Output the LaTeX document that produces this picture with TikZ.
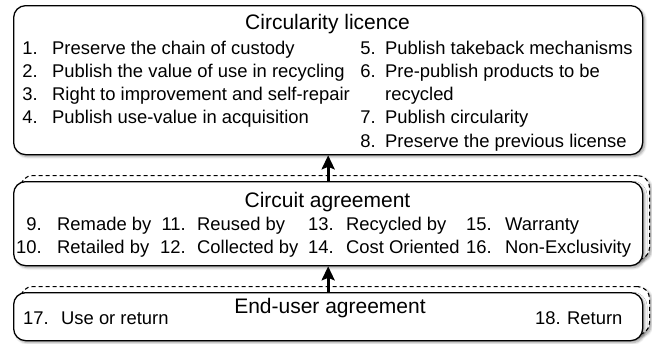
\documentclass[tikz,border=0pt]{standalone}
\usepackage{fontspec}
\setmainfont{Liberation Sans}
\usetikzlibrary{arrows.meta,shadows.blur}

\tikzset{
  softshadow/.style={blur shadow={shadow xshift=2pt, shadow yshift=-2pt,
      shadow blur radius=2.5pt, shadow blur steps=6, shadow opacity=40}},
  panel/.style={draw=black, line width=1.3pt, fill=white, rounded corners=12pt,
      anchor=north west, inner sep=0pt, softshadow},
  ghost/.style={draw=black, line width=1.1pt, dash pattern=on 4pt off 3pt,
      fill=white, rounded corners=12pt, anchor=north west, inner sep=0pt, softshadow},
  heading/.style={font=\fontsize{21}{25}\selectfont, anchor=base, inner sep=0pt},
  num/.style={font=\fontsize{18.4}{22}\selectfont, anchor=base east, inner sep=0pt},
  txt/.style={font=\fontsize{18.4}{22}\selectfont, anchor=base west, inner sep=0pt},
  link/.style={line width=3.2pt, -{Stealth[length=14pt, width=13pt, inset=2.5pt]}},
}

% numbered entry: name, number right edge, text left edge, baseline, number, text
\newcommand\listentry[6]{%
  \node[num] (#1n) at (#2,#4) {#5};
  \node[txt] (#1) at (#3,#4) {#6};}

\begin{document}
\begin{tikzpicture}[x=1pt, y=-1pt]
\useasboundingbox (0,0) rectangle (652,343);

% ---- circularity licence ----
\node[panel, minimum width=629pt, minimum height=149pt] (lic) at (13,5) {};
\node[heading] (lictitle) at (327.5,29.5) {Circularity licence};
\listentry{e1}{38}{52}{54}{1.}{Preserve the chain of custody}
\listentry{e2}{38}{52}{77}{2.}{Publish the value of use in recycling}
\listentry{e3}{38}{52}{100}{3.}{Right to improvement and self-repair}
\listentry{e4}{38}{52}{123}{4.}{Publish use-value in acquisition}
\listentry{e5}{376}{385}{54}{5.}{Publish takeback mechanisms}
\listentry{e6}{376}{385}{77}{6.}{Pre-publish products to be}
\node[txt] (e6b) at (385,100) {recycled};
\listentry{e7}{376}{385}{123}{7.}{Publish circularity}
\listentry{e8}{376}{385}{147}{8.}{Preserve the previous license}

% ---- circuit agreement ----
\node[ghost, minimum width=629pt, minimum height=84pt] (cirback) at (20,175) {};
\node[panel, minimum width=629pt, minimum height=84pt] (cir) at (13,181) {};
\node[heading] (cirtitle) at (327.5,207.5) {Circuit agreement};
\listentry{e9}{42}{57}{230.5}{9.}{Remade by}
\listentry{e10}{42}{57}{253.5}{10.}{Retailed by}
\listentry{e11}{186}{197}{230.5}{11.}{Reused by}
\listentry{e12}{186}{197}{253.5}{12.}{Collected by}
\listentry{e13}{334}{346}{230.5}{13.}{Recycled by}
\listentry{e14}{334}{346}{253.5}{14.}{Cost Oriented}
\listentry{e15}{492}{505}{230.5}{15.}{Warranty}
\listentry{e16}{492}{505}{253.5}{16.}{Non-Exclusivity}

% ---- end-user agreement ----
\node[ghost, minimum width=629pt, minimum height=48pt] (endback) at (20,286) {};
\node[panel, minimum width=629pt, minimum height=48pt] (enduser) at (13,292) {};
\node[heading] (endtitle) at (330,313) {End-user agreement};
\listentry{e17}{49}{61}{324.5}{17.}{Use or return}
\listentry{e18}{561}{567}{324.5}{18.}{Return}

% ---- links ----
\draw[link] (cir.north) -- (lic.south);
\draw[link] (enduser.north) -- (cir.south);
\end{tikzpicture}
\end{document}
